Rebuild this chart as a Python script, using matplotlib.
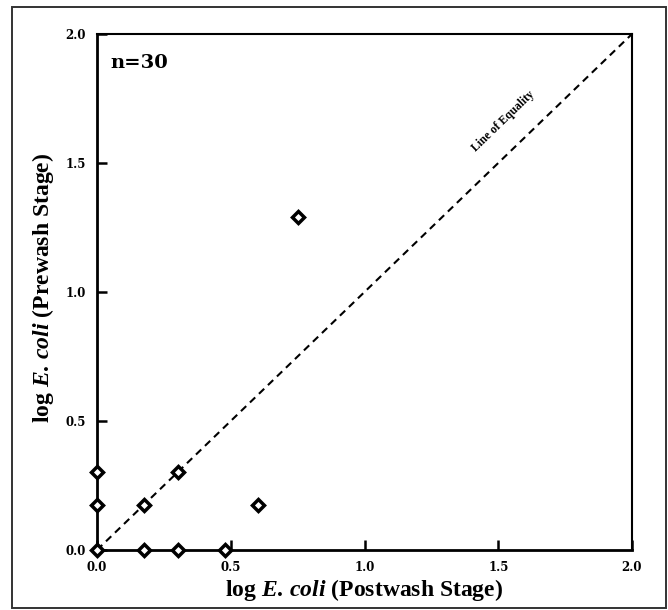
"""Scatter of prewash vs postwash log E. coli counts with a line of equality."""

import matplotlib

matplotlib.use("Agg")

import matplotlib.pyplot as plt
from matplotlib.patches import Rectangle

# log E. coli counts (overlapping points only drawn once)
postwash = [0.0, 0.0, 0.0, 0.176, 0.301, 0.176, 0.301, 0.477, 0.602, 0.75]
prewash = [0.0, 0.176, 0.301, 0.176, 0.301, 0.0, 0.0, 0.0, 0.176, 1.29]

equality = [0.0, 2.0]
ticks = [0.0, 0.5, 1.0, 1.5, 2.0]
tick_labels = ["0.0", "0.5", "1.0", "1.5", "2.0"]

W, H = 668, 610
AX_L, AX_R, AX_T, AX_B = 97, 632, 34, 550

plt.rcParams.update(
    {
        "font.family": "Liberation Serif",
        "mathtext.fontset": "custom",
        "mathtext.rm": "Liberation Serif:bold",
        "mathtext.it": "Liberation Serif:italic:bold",
    }
)

fig = plt.figure(figsize=(W / 100, H / 100), dpi=100)
ax = fig.add_axes([AX_L / W, 1 - AX_B / H, (AX_R - AX_L) / W, (AX_B - AX_T) / H])

# outer frame round the whole figure
fig.patches.append(
    Rectangle(
        (12 / W, 2 / H),
        (666 - 12) / W,
        (608 - 7) / H,
        transform=fig.transFigure,
        fill=False,
        edgecolor="#333333",
        linewidth=1.4,
    )
)

ax.plot(equality, equality, linestyle=(0, (3.5, 2.5)), color="black",
        linewidth=1.5, zorder=2)
ax.plot(postwash, prewash, linestyle="none", marker="D", markersize=6,
        markerfacecolor="white", markeredgecolor="black",
        markeredgewidth=2.5, zorder=3, clip_on=False)

ax.set_xlim(0, 2)
ax.set_ylim(0, 2)
ax.set_xticks(ticks)
ax.set_yticks(ticks)
ax.set_xticklabels(tick_labels)
ax.set_yticklabels(tick_labels)
ax.tick_params(direction="in", length=7, width=1.8, pad=8)
for lab in ax.get_xticklabels() + ax.get_yticklabels():
    lab.set_fontfamily("DejaVu Serif")
    lab.set_fontweight("bold")
    lab.set_fontsize(8.5)

for side in ("left", "bottom"):
    ax.spines[side].set_linewidth(2.0)
for side in ("top", "right"):
    ax.spines[side].set_linewidth(1.5)

# axis titles placed directly so their centres match the original
cx = (AX_L + AX_R) / 2 / W
cy = 1 - (AX_T + AX_B) / 2 / H
fig.text(cx, 1 - 590 / H, r"log $\mathit{E.\,coli}$ (Postwash Stage)",
         fontsize=17, fontweight="bold", ha="center", va="center")
fig.text(43 / W, cy + 4 / H, r"log $\mathit{E.\,coli}$ (Prewash Stage)",
         fontsize=17, fontweight="bold", ha="center", va="center", rotation=90)

ax.text(0.05, 1.888, "n=30", fontsize=14, fontweight="bold",
        family="DejaVu Serif", ha="left", va="center")
ax.text(1.52, 1.66, "Line of Equality", fontsize=8.5, fontweight="bold",
        rotation=44, ha="center", va="center", rotation_mode="anchor")

fig.savefig("out.png", dpi=100)
